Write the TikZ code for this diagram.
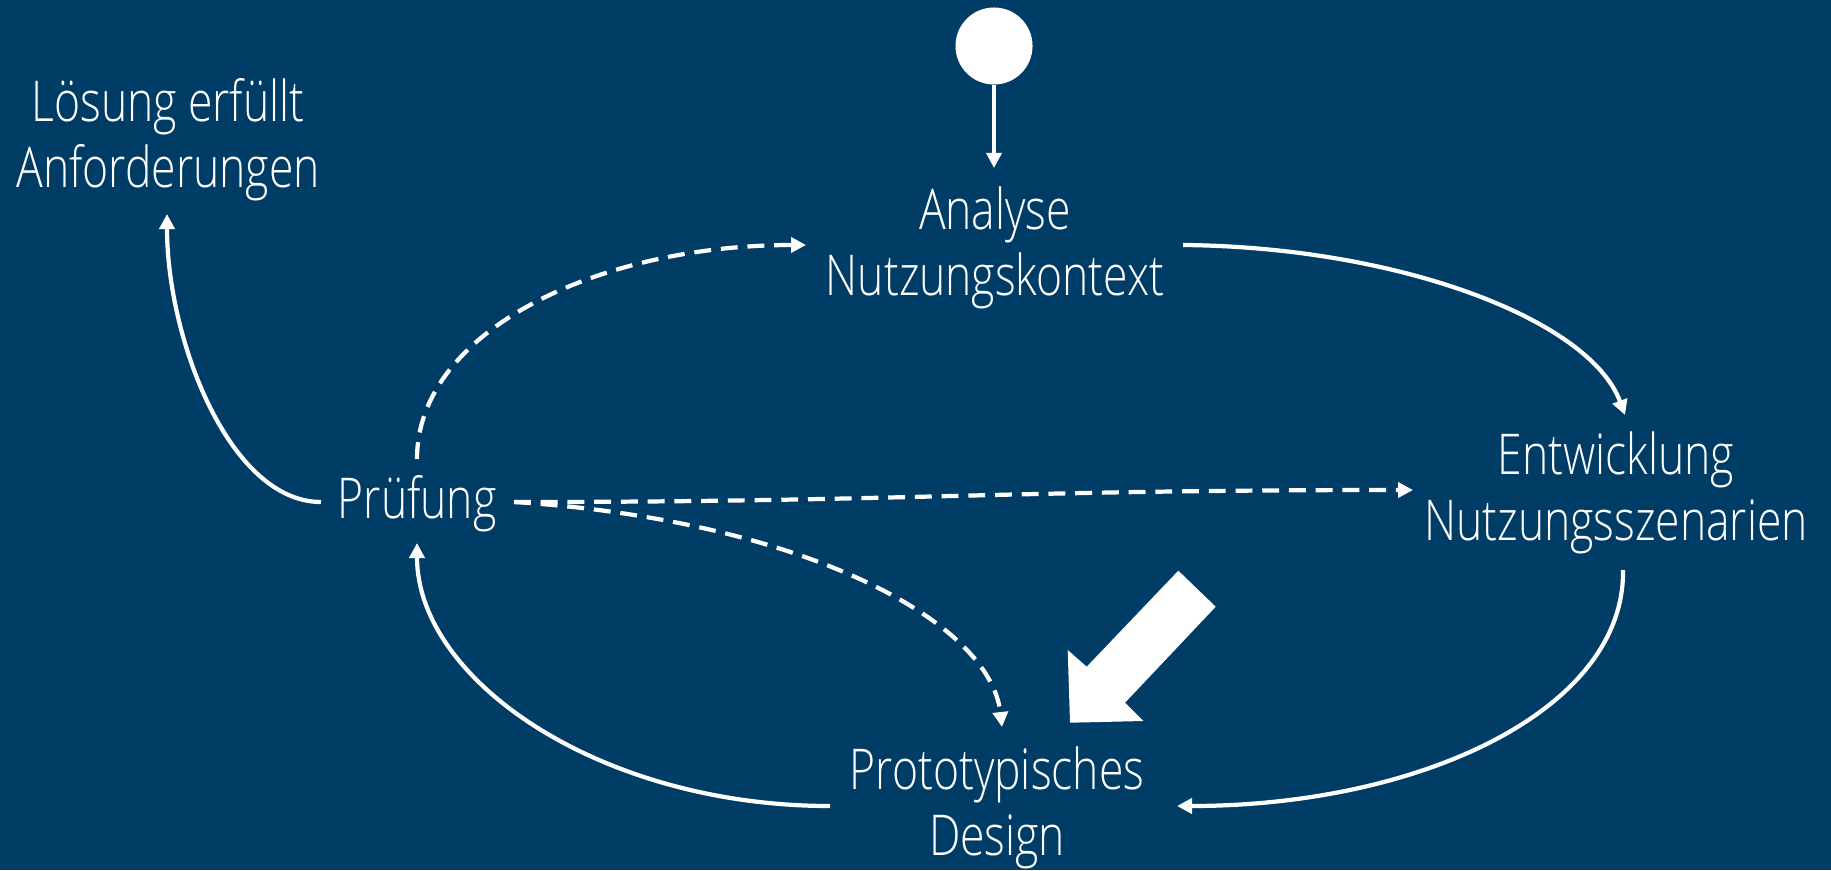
\documentclass[tikz,border=0pt]{standalone}
\usepackage{fontspec}
\setmainfont[FakeStretch=0.79]{Open Sans Light}
\usetikzlibrary{arrows.meta,calc}
\definecolor{bgblue}{RGB}{0,61,102}
\begin{document}
\begin{tikzpicture}[x=0.01cm,y=-0.01cm,
  lbl/.style={text=white,align=center,inner sep=0pt,font=\fontsize{16}{18.7}\selectfont},
  flow/.style={draw=white,line width=1.2pt,-{Triangle[length=1.5mm,width=1.5mm]}},
  dflow/.style={flow,dash pattern=on 4.8pt off 2.8pt}]
\fill[bgblue] (0,0) rectangle (1831,870);
\useasboundingbox (0,0) rectangle (1831,870);

% start marker
\node[circle,fill=white,minimum size=0.77cm,inner sep=0pt] (start) at (994,46) {};

% process steps
\node[lbl] (analyse) at (995,248) {Analyse\\Nutzungskontext};
\node[lbl] (entw)    at (1616,493) {Entwicklung\\Nutzungsszenarien};
\node[lbl] (proto)   at (997,808) {Prototypisches\\Design};
\node[lbl] (pruef)   at (417,504) {Prüfung};
\node[lbl] (loesung) at (168,140) {Lösung erfüllt\\Anforderungen};

% solid cycle
\draw[flow] (start.south) -- ($(analyse)+(-1,-80)$);
\draw[flow] ($(analyse)+(188,-3)$) .. controls (1400,247) and (1590,320) .. ($(entw)+(9,-78)$);
\draw[flow] ($(entw)+(7,77)$) .. controls (1625,710) and (1420,806) .. ($(proto)+(180,-2)$);
\draw[flow] ($(proto)+(-167,-2)$) .. controls (600,806) and (417,680) .. ($(pruef)+(0,39)$);
\draw[flow] ($(pruef)+(-96,-2)$) .. controls (230,502) and (167,340) .. ($(loesung)+(-1,74)$);

% dashed feedback paths
\draw[dflow] ($(pruef)+(0,-45)$) .. controls (417,330) and (600,245) .. ($(analyse)+(-189,-3)$);
\draw[dflow] ($(pruef)+(97,-2)$) .. controls (900,502) and (1000,490) .. ($(entw)+(-203,-3)$);
\draw[dflow] ($(pruef)+(97,-2)$) .. controls (800,520) and (990,620) .. ($(proto)+(5,-81)$);

% block arrow
\fill[white] (1178.3,570.7) -- (1215.7,606.7) -- (1125,702.7) -- (1143.3,721)
  -- (1070,722.7) -- (1067.7,650) -- (1086.7,666.7) -- cycle;
\end{tikzpicture}
\end{document}
